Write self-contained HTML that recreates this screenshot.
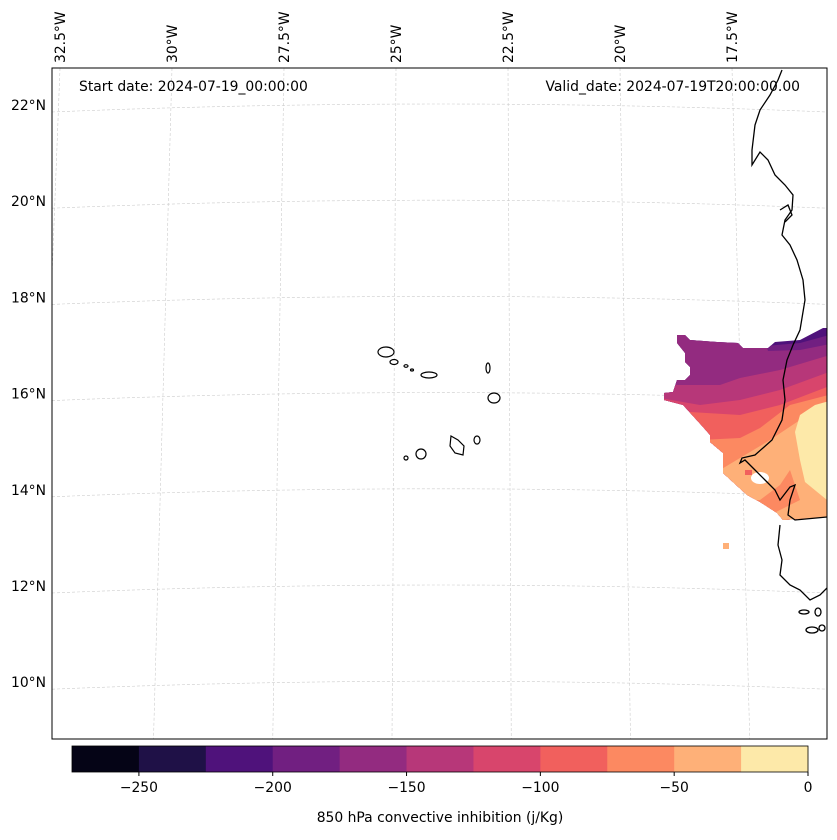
<!DOCTYPE html>
<html><head><meta charset="utf-8"><style>
body{margin:0;background:#fff;font-family:"DejaVu Sans",sans-serif;}
svg text{font-family:"DejaVu Sans","Liberation Sans",sans-serif;font-size:13.9px;fill:#000}
</style></head><body>
<svg id="fig" width="837" height="836" viewBox="0 0 837 836" xmlns="http://www.w3.org/2000/svg">
<defs><clipPath id="mapclip"><rect x="52" y="68" width="775" height="671"/></clipPath>
<clipPath id="fieldclip"><polygon points="677,335 685,335 690,340 717,342 738,343 743,348 768,348 775,342 800,340 823,328 827,328 827,517 783,520 777,513 760,502 747,495 723,473 723,453 710,442 710,435 703,427 683,405 664,400 664,393 673,392 677,380 685,380 690,375 690,367 685,362 685,353 677,343"/></clipPath></defs>
<g id="grid" clip-path="url(#mapclip)"></g>
<g clip-path="url(#fieldclip)">
<rect x="660" y="320" width="180" height="210" fill="#4f127b"/>
<polygon fill="#711f81" points="660,320 750,320 765,346 800,343 840,332 840,600 660,600"/>
<polygon fill="#932b80" points="660,320 758,320 768,351 800,350 840,342 840,600 660,600"/>
<polygon fill="#b73779" points="660,385 720,385 740,378 780,370 840,352 840,600 660,600"/>
<polygon fill="#d8456c" points="660,398 700,405 740,400 780,390 840,368 840,600 660,600"/>
<polygon fill="#f1605d" points="660,408 690,412 740,415 780,405 840,382 840,600 660,600"/>
<polygon fill="#fc8961" points="660,445 700,440 740,438 760,428 790,405 840,392 840,600 660,600"/>
<polygon fill="#feb078" points="660,520 720,470 745,455 770,440 800,420 840,408 840,600 660,600"/>
<polygon fill="#fc8961" points="740,500 760,500 780,485 790,470 800,500 760,520"/>
<polygon fill="#fde9a9" points="840,398 815,405 800,415 795,432 800,460 805,482 827,500 840,500"/>
<ellipse cx="760" cy="478" rx="9" ry="6" fill="#fff"/>
<rect x="745" y="470" width="7" height="5" fill="#f1605d"/>
</g>
<rect x="723" y="543" width="6" height="6" fill="#feb078"/>
<g fill="none" stroke="#000" stroke-width="1.3" clip-path="url(#mapclip)">
<polyline points="782,70 778,80 770,95 760,110 755,125 752,150 752,165 760,152 768,160 775,175 785,185 793,195 792,210 785,220 782,235 790,245 797,260 803,280 805,300 800,330 793,345 787,360 783,380 785,400 782,420 772,440 755,455 742,458 740,463 745,460 755,470 765,480 775,490 780,500 790,487 795,485 790,500 788,515 795,520 827,517"/>
<polyline points="780,525 778,545 782,560 780,575 790,585 800,590 810,600 820,595 827,588"/>
<polyline points="780,210 788,205 792,215 785,222"/>
<ellipse cx="804" cy="612" rx="5" ry="2"/><ellipse cx="818" cy="612" rx="3" ry="4"/><ellipse cx="812" cy="630" rx="6" ry="3"/><ellipse cx="822" cy="628" rx="3" ry="3"/>
</g>
<g fill="#fff" stroke="#000" stroke-width="1.2">
<ellipse cx="386" cy="352" rx="8" ry="5"/><ellipse cx="394" cy="362" rx="4" ry="2.5"/><ellipse cx="406" cy="366" rx="2" ry="1.3"/><ellipse cx="412" cy="370" rx="1.5" ry="1"/>
<ellipse cx="429" cy="375" rx="8" ry="3"/><ellipse cx="488" cy="368" rx="2" ry="5"/><ellipse cx="494" cy="398" rx="6" ry="5"/>
<path d="M451,436 L458,440 L464,446 L463,455 L455,453 L450,446 Z"/><ellipse cx="477" cy="440" rx="3" ry="4"/><ellipse cx="421" cy="454" rx="5" ry="5"/><ellipse cx="406" cy="458" rx="2" ry="2"/>
</g>
<rect x="52" y="68" width="775" height="671" fill="none" stroke="#000" stroke-width="1"/>
<g id="latlabels"></g>
<g id="lonlabels"></g>
<text x="79" y="91">Start date: 2024-07-19_00:00:00</text>
<text x="800" y="91" text-anchor="end">Valid_date: 2024-07-19T20:00:00.00</text>
<g id="cbar"></g>
<text x="440" y="822" text-anchor="middle">850 hPa convective inhibition (j/Kg)</text>
</svg>
<script>
const lats=[22,20,18,16,14,12,10];
const lons=[32.5,30,27.5,25,22.5,20,17.5];
const levels=[-275,-250,-225,-200,-175,-150,-125,-100,-75,-50,-25,0];
const cbColors=["#050416","#1f1147","#4f127b","#711f81","#932b80","#b73779","#d8456c","#f1605d","#fc8961","#feb078","#fde9a9"];
const cbTicks=[-250,-200,-150,-100,-50,0];
const NS="http://www.w3.org/2000/svg";
function mk(t,a,p){const e=document.createElementNS(NS,t);for(const k in a)e.setAttribute(k,a[k]);p.appendChild(e);return e;}
const latY=l=>106+(22-l)*48.1;
const lonTopX=w=>60+(32.5-w)*44.8;
const lonBotX=w=>392+(25-w)*47.7;
const grid=document.getElementById('grid');
lats.forEach(l=>{const y=latY(l);const p=mk('path',{d:`M52,${y+6} Q440,${y-10} 827,${y+6}`,fill:'none',stroke:'#ccc','stroke-width':0.6,'stroke-dasharray':'3,2'},grid);


const t=mk('text',{x:46,y:y+4,'text-anchor':'end'},document.getElementById('latlabels'));t.textContent=l+'°N';

});
lons.forEach(w=>{const x1=lonTopX(w),x2=lonBotX(w);const p=mk('line',{x1:x1,y1:68,x2:x2,y2:739,stroke:'#ccc','stroke-width':0.6,'stroke-dasharray':'3,2'},grid);


const x=lonTopX(w)+5;const t=mk('text',{x:0,y:0,transform:`translate(${x},63) rotate(-90)`},document.getElementById('lonlabels'));t.textContent=w+'°W';

});
const cb=document.getElementById('cbar');
const cx=v=>72+(v+275)/275*736;
cbColors.forEach((c,i)=>{const r=mk('rect',{x:cx(levels[i]),y:746,width:cx(levels[i+1])-cx(levels[i])+0.5,height:26,fill:c},cb);

});
mk('rect',{x:72,y:746,width:736,height:26,fill:'none',stroke:'#000','stroke-width':0.8},cb);
cbTicks.forEach(v=>{mk('line',{x1:cx(v),y1:772,x2:cx(v),y2:776,stroke:'#000'},cb);
const t=mk('text',{x:cx(v),y:792,'text-anchor':'middle'},cb);t.textContent=v<0?'\u2212'+(-v):v;

});
</script>
</body></html>
